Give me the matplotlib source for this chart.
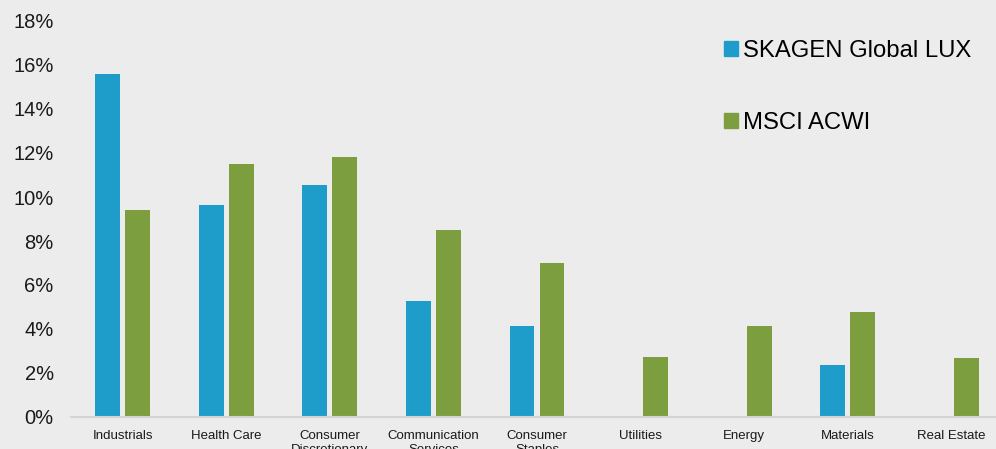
import matplotlib
matplotlib.use("Agg")
import matplotlib.pyplot as plt
import numpy as np
from matplotlib.patches import Patch

categories = ["Industrials", "Health Care", "Consumer\nDiscretionary", "Communication\nServices",
              "Consumer\nStaples", "Utilities", "Energy", "Materials", "Real Estate"]
skagen = [15.6, 9.65, 10.55, 5.27, 4.14, 0, 0, 2.36, 0]
msci = [9.41, 11.5, 11.82, 8.5, 7.0, 2.73, 4.14, 4.77, 2.68]
series_names = ["SKAGEN Global LUX", "MSCI ACWI"]
yticks = [0, 2, 4, 6, 8, 10, 12, 14, 16, 18]

plt.rcParams['font.family'] = ['Liberation Sans', 'DejaVu Sans']
bg = "#ececec"
blue = "#1f9dca"
green = "#7c9e3e"

fig = plt.figure(figsize=(9.96, 4.49), dpi=100, facecolor=bg)
W, H = 996, 449
left, right = 71, 1003
bottom, top = 417, 21
ax = fig.add_axes([left / W, 1 - bottom / H, (right - left) / W, (bottom - top) / H])
ax.set_facecolor(bg)

x = np.arange(len(categories))
w = 0.24
off = 0.145
ax.bar(x - off, skagen, w, color=blue, label=series_names[0])
ax.bar(x + off, msci, w, color=green, label=series_names[1])

ax.set_xlim(-0.5, len(categories) - 0.5)
ax.set_ylim(0, 18)
ax.set_yticks(yticks)
ax.set_yticklabels([f"{v}%" for v in yticks], fontsize=14.5, color="#1a1a1a")
ax.set_xticks(x)
ax.set_xticklabels(categories, fontsize=9.5, color="#1a1a1a", linespacing=1.15)
ax.tick_params(axis='y', length=0, pad=12.5)
ax.tick_params(axis='x', length=0, pad=9.5)
for s in ["left", "right", "top"]:
    ax.spines[s].set_visible(False)
ax.spines["bottom"].set_color("#d4d4d4")
ax.spines["bottom"].set_linewidth(1.5)

handles = [Patch(color=blue), Patch(color=green)]
leg = fig.legend(handles, series_names, loc="upper left", bbox_to_anchor=(724 / W, 1 - 40 / H),
                 frameon=False, fontsize=17.2, handlelength=0.6, handleheight=0.6,
                 handletextpad=0.2, labelspacing=2.1, borderaxespad=0, borderpad=0)

fig.savefig("out.png", dpi=100, facecolor=bg)
